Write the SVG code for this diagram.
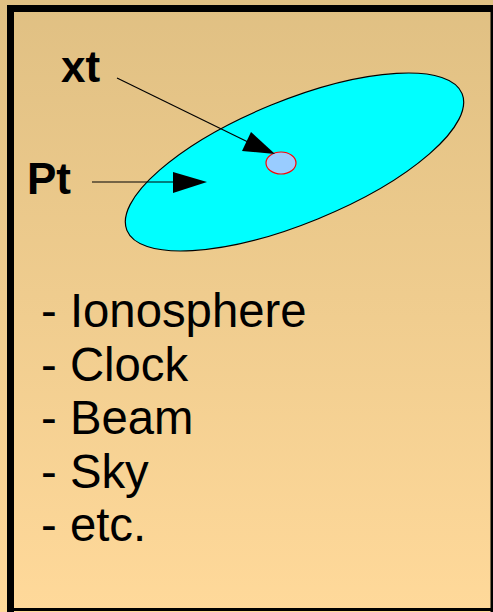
<svg xmlns="http://www.w3.org/2000/svg" width="493" height="612" viewBox="0 0 493 612">
<defs>
<linearGradient id="bg" x1="0" y1="0" x2="0" y2="1">
<stop offset="0" stop-color="#E0C083"/>
<stop offset="1" stop-color="#FFD99A"/>
</linearGradient>
<style>
.lbl{font-family:"Liberation Sans",Arial,sans-serif;font-weight:bold;font-size:44px;fill:#000}
.item{font-family:"Liberation Sans",Arial,sans-serif;font-size:47.3px;fill:#000}
.conn{stroke:#000;stroke-width:1.2;fill:none}
</style>
</defs>
<rect x="0" y="0" width="493" height="612" fill="url(#bg)"/>
<g id="frame">
<rect x="7" y="5" width="486" height="7" fill="#000"/>
<rect x="7" y="5" width="7" height="607" fill="#000"/>
<rect x="490.5" y="5" width="2.5" height="607" fill="#000"/>
<rect x="7" y="608" width="486" height="3" fill="#000"/>
</g>
<g id="ellipse">
<ellipse cx="294.5" cy="162" rx="181" ry="61.5" transform="rotate(-22.2 294.5 162)" fill="#00FFFF" stroke="#000" stroke-width="1.2"/>
</g>
<g id="point">
<ellipse cx="281" cy="163" rx="15" ry="11" fill="#99CCFF" stroke="#FF0000" stroke-width="1.2"/>
</g>
<g id="labels">
<text class="lbl" x="61" y="82">xt</text>
<text class="lbl" x="27" y="194">Pt</text>
</g>
<g id="connectors">
<line class="conn" x1="117" y1="78" x2="250" y2="143"/>
<polygon points="275,154 242,151 251,132" fill="#000"/>
<line class="conn" x1="92" y1="182" x2="180" y2="182"/>
<polygon points="207,182 173,172 173,193" fill="#000"/>
</g>
<g id="list">
<text class="item" x="41" y="327">- Ionosphere</text>
<text class="item" x="41" y="380.5">- Clock</text>
<text class="item" x="41" y="434">- Beam</text>
<text class="item" x="41" y="487.5">- Sky</text>
<text class="item" x="41" y="541">- etc.</text>
</g>
</svg>
